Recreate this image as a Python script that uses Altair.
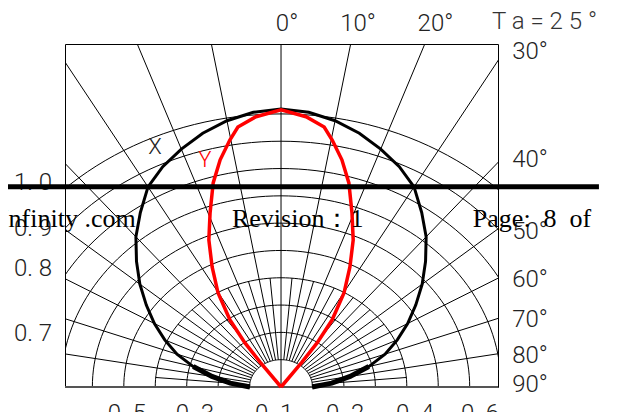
import math
import altair as alt
import pandas as pd

# ---------------- data (radius in grid units, angle in degrees from the axis) ----
X_ANG = [0, 5, 10, 15, 20, 25, 30, 35, 40, 45, 50, 55, 60, 65, 70, 75, 80, 85, 90]
X_R = [10.18, 10.10, 9.90, 9.62, 9.27, 8.90, 8.46, 7.80, 7.18, 6.50, 5.86, 5.23,
       4.65, 4.08, 3.52, 2.89, 2.23, 1.62, 0.99]
Y_ANG = [0, 4.6, 8.2, 10.2, 13.1, 16.1, 19.5, 23.1, 26.5, 30.2, 33.5, 35.4, 36.1, 36.5]
Y_R = [10.15, 9.93, 9.62, 9.19, 8.54, 7.78, 6.76, 5.85, 4.91, 3.98, 2.94, 1.98, 1.13, 0.0]

ARC_R = [1, 2, 3, 4, 5, 6, 7, 8, 9, 10]
SPOKE_MAJOR = list(range(-80, 81, 10))
SPOKE_MINOR = list(range(-85, 86, 10))

TOP_LABELS = ["0°", "10°", "20°"]
TOP_X = [0.19, 2.45, 4.91]
RIGHT_LABELS = ["30°", "40°", "50°", "60°", "70°", "80°", "90°"]
RIGHT_Y = [12.27, 8.32, 5.68, 3.92, 2.45, 1.14, 0.07]
LEFT_LABELS = ["1. 0", "0. 9", "0. 8", "0. 7"]
LEFT_Y = [7.47, 5.79, 4.32, 1.94]
BOTTOM_LABELS = ["0. 5", "0. 3", "0. 1", "0. 2", "0. 4", "0. 6"]
BOTTOM_X = [-4.90, -2.74, -0.22, 2.04, 4.26, 6.33]
FOOTER_TEXT = ["Infinity .com", "Revision\uff1a1", "Page:\u00a0\u00a08\u00a0\u00a0of"]
FOOTER_X = [-8.94, -1.56, 6.10]

XDOM = [-6.87, 6.90]
YDOM = [0, 12.56]


def pt(r, a):
    t = math.radians(a)
    return r * math.sin(t), r * math.cos(t)


def curve_df(angles, radii):
    rows = []
    seq = [(-a, r) for a, r in zip(angles[::-1], radii[::-1])] + \
          [(a, r) for a, r in zip(angles[1:], radii[1:])]
    for i, (a, r) in enumerate(seq):
        x, y = pt(r, a)
        rows.append({"x": x, "y": y, "ord": i, "ang": a})
    return pd.DataFrame(rows)


# grid
g = []
for r in ARC_R:
    for a in range(-90, 91, 2):
        x, y = pt(r, a)
        g.append({"grp": f"a{r}", "ord": a, "x": x, "y": y})
for a in SPOKE_MAJOR:
    r0 = 0 if a == 0 else 1
    for i, r in enumerate([r0, 20]):
        x, y = pt(r, a)
        g.append({"grp": f"s{a}", "ord": i, "x": x, "y": y})
for a in SPOKE_MINOR:
    for i, r in enumerate([1, 4]):
        x, y = pt(r, a)
        g.append({"grp": f"m{a}", "ord": i, "x": x, "y": y})
grid_df = pd.DataFrame(g)

xdf = curve_df(X_ANG, X_R)
ydf = curve_df(Y_ANG, Y_R)

xs = alt.Scale(domain=XDOM, nice=False, zero=False)
ys = alt.Scale(domain=YDOM, nice=False, zero=False)
X = lambda f="x": alt.X(f"{f}:Q", scale=xs, axis=None)
Y = lambda f="y": alt.Y(f"{f}:Q", scale=ys, axis=None)

grid = alt.Chart(grid_df).mark_line(clip=True, color="black", strokeWidth=1).encode(
    x=X(), y=Y(), detail="grp:N", order="ord:Q")

base_rule = alt.Chart(pd.DataFrame({"x": [XDOM[0]], "x2": [XDOM[1]], "y": [0]})).mark_rule(
    color="#555", strokeWidth=2).encode(x=X(), x2="x2:Q", y=Y())

xline = alt.Chart(xdf).mark_line(color="black", strokeWidth=3).encode(
    x=X(), y=Y(), order="ord:Q")
xl_left = alt.Chart(xdf[xdf.ang <= -74]).mark_line(color="black", strokeWidth=5).encode(
    x=X(), y=Y(), order="ord:Q")
xl_right = alt.Chart(xdf[xdf.ang >= 74]).mark_line(color="black", strokeWidth=5).encode(
    x=X(), y=Y(), order="ord:Q")
yline = alt.Chart(ydf).mark_line(color="#ff0000", strokeWidth=3.5).encode(
    x=X(), y=Y(), order="ord:Q")

CAD = "Roboto, sans-serif"
CW = 300

top_t = alt.Chart(pd.DataFrame({"x": TOP_X, "y": [13.3] * 3, "t": TOP_LABELS})).mark_text(
    font=CAD, fontWeight=CW, fontSize=24, color="#222", align="center", baseline="middle").encode(
    x=X(), y=Y(), text="t:N")
ta_t = alt.Chart(pd.DataFrame({"x": [6.71], "y": [13.38], "t": ["T a = 2 5 °"]})).mark_text(
    font=CAD, fontWeight=CW, fontSize=24, color="#333", align="left",
    baseline="middle").encode(x=X(), y=Y(), text="t:N")
right_t = alt.Chart(pd.DataFrame({"x": [7.35] * 7, "y": RIGHT_Y, "t": RIGHT_LABELS})).mark_text(
    font=CAD, fontWeight=CW, fontSize=24, color="#222", align="left", baseline="middle").encode(
    x=X(), y=Y(), text="t:N")
left_t = alt.Chart(pd.DataFrame({"x": [-7.28] * 4, "y": LEFT_Y, "t": LEFT_LABELS})).mark_text(
    font=CAD, fontWeight=CW, fontSize=24, color="#222", align="right", baseline="middle").encode(
    x=X(), y=Y(), text="t:N")
bottom_t = alt.Chart(pd.DataFrame({"x": BOTTOM_X, "y": [-0.55] * 6, "t": BOTTOM_LABELS})).mark_text(
    font=CAD, fontWeight=CW, fontSize=24, color="#222", align="center", baseline="top").encode(
    x=X(), y=Y(), text="t:N")
xy_t = alt.Chart(pd.DataFrame({"x": [-4.01, -2.42], "y": [8.79, 8.32], "t": ["X", "Y"],
                               "c": ["black", "red"]})).mark_text(
    font=CAD, fontWeight=CW, fontSize=22, align="center", baseline="middle").encode(
    x=X(), y=Y(), text="t:N",
    color=alt.Color("c:N", scale=alt.Scale(domain=["black", "red"], range=["#222", "#ff0000"]),
                    legend=None))

bar = alt.Chart(pd.DataFrame({"x": [-8.94], "x2": [10.11], "y": [7.33]})).mark_rule(
    color="black", strokeWidth=5).encode(x=X(), x2="x2:Q", y=Y())

footer = alt.Chart(pd.DataFrame({"x": FOOTER_X, "y": [5.86] * 3, "t": FOOTER_TEXT})).mark_text(
    font="Liberation Serif, serif", fontSize=26, color="black", align="left",
    baseline="alphabetic").encode(x=X(), y=Y(), text="t:N")

chart = alt.layer(
    grid, base_rule, xline, xl_left, xl_right, yline,
    top_t, ta_t, right_t, left_t, bottom_t, xy_t, bar, footer
).properties(
    width=433, height=343,
    padding={"left": 57, "top": 36, "right": 111, "bottom": 30},
    autosize=alt.AutoSizeParams(type="none"),
).configure_view(stroke="black", strokeWidth=1)

chart.save("out.html", embed_options={"renderer": "svg", "actions": False})
